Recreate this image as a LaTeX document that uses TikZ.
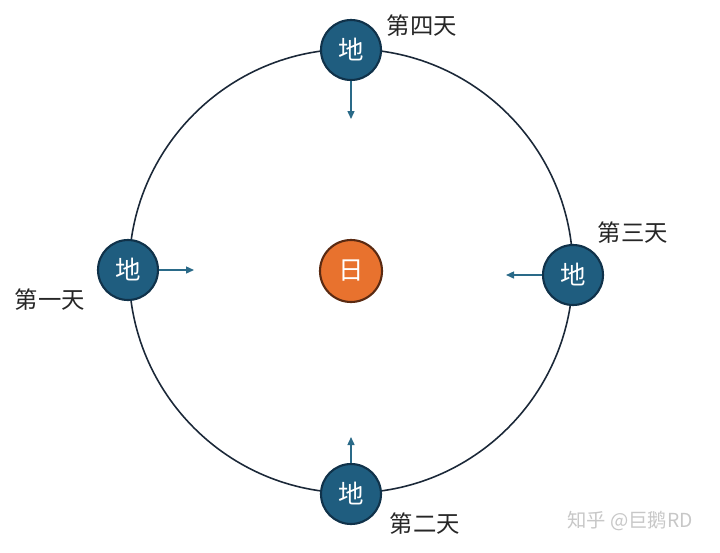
\documentclass[tikz,border=0pt]{standalone}
\usepackage{fontspec}
\newfontfamily\cjk{Noto Sans CJK SC}
\usetikzlibrary{arrows.meta}
\definecolor{orbitline}{HTML}{1B2838}
\definecolor{earthfill}{HTML}{1F5D7F}
\definecolor{earthedge}{HTML}{10324A}
\definecolor{sunfill}{HTML}{E8722E}
\definecolor{sunedge}{HTML}{5A2A12}
\definecolor{moveline}{HTML}{2A6A88}

\begin{document}
\begin{tikzpicture}[
  x=0.02cm,y=-0.02cm,
  earth/.style={draw=earthedge,line width=1.2pt,circle,fill=earthfill,minimum size=1.2cm,inner sep=0pt,text=white,font=\cjk\fontsize{14.5}{16}\selectfont},
  sun/.style={draw=sunedge,line width=1.2pt,circle,fill=sunfill,minimum size=1.24cm,inner sep=0pt,text=white,font=\cjk\fontsize{14.5}{16}\selectfont},
  day/.style={font=\cjk\fontsize{13.3}{15}\selectfont,text=black!85},
  move/.style={-{Triangle[length=1.6mm,width=1.4mm]},draw=moveline,line width=0.8pt}
]
  \useasboundingbox (0,0) rectangle (720,552);
  \draw[orbitline,line width=0.9pt] (351,271) circle[radius=4.44cm];

  \node[sun] (sun) at (351,271) {日};
  \node[earth] (earthtop) at (351,50) {地};
  \node[earth] (earthleft) at (128,270) {地};
  \node[earth] (earthright) at (573,275) {地};
  \node[earth] (earthbottom) at (351,494) {地};

  \coordinate (tiptop) at (351,119);
  \coordinate (tipleft) at (194,270);
  \coordinate (tipright) at (506,275);
  \coordinate (tipbottom) at (351,437);

  \draw[move] (earthtop) -- (tiptop);
  \draw[move] (earthleft) -- (tipleft);
  \draw[move] (earthright) -- (tipright);
  \draw[move] (earthbottom) -- (tipbottom);

  \node[day] (dayone) at (50,300) {第一天};
  \node[day] (daytwo) at (425,524) {第二天};
  \node[day] (daythree) at (633,233) {第三天};
  \node[day] (dayfour) at (422,26) {第四天};

  \node[font=\cjk\fontsize{11}{13}\selectfont,text=black!22] (mark) at (630,521) {知乎 @巨鹅RD};
\end{tikzpicture}
\end{document}
